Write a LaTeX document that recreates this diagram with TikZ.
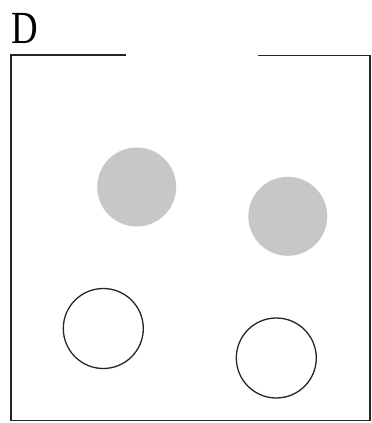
\documentclass[tikz,border=0pt]{standalone}
\usepackage{fontspec}
\setmainfont{Liberation Serif}
\begin{document}
\begin{tikzpicture}[x=1pt,y=-1pt,
  wall/.style={draw=black!85, line width=1.8pt},
  ball/.style={circle, draw=black!85, line width=1.3pt, fill=white, inner sep=0pt, minimum size=80pt},
  grayball/.style={circle, fill=black!22, draw=none, inner sep=0pt, minimum size=79pt},
  lbl/.style={font=\fontsize{46}{46}\selectfont, inner sep=0pt, xscale=0.8}]
\useasboundingbox (0,0) rectangle (372,423);
\coordinate (tl) at (11,55);
\coordinate (gl) at (126,55);
\coordinate (gr) at (258,55.5);
\coordinate (tr) at (370,55.5);
\coordinate (br) at (370,420.5);
\coordinate (bl) at (11,420.5);
\draw[wall] (gl) -- (tl) -- (bl) -- (br) -- (tr) -- (gr);
\node[lbl, anchor=base west] (D) at (11,43.5) {D};
\node[grayball] (g1) at (136.7,187) {};
\node[grayball] (g2) at (287.8,216.3) {};
\node[ball] (w1) at (103.3,328.5) {};
\node[ball] (w2) at (276.3,358) {};
\end{tikzpicture}
\end{document}
